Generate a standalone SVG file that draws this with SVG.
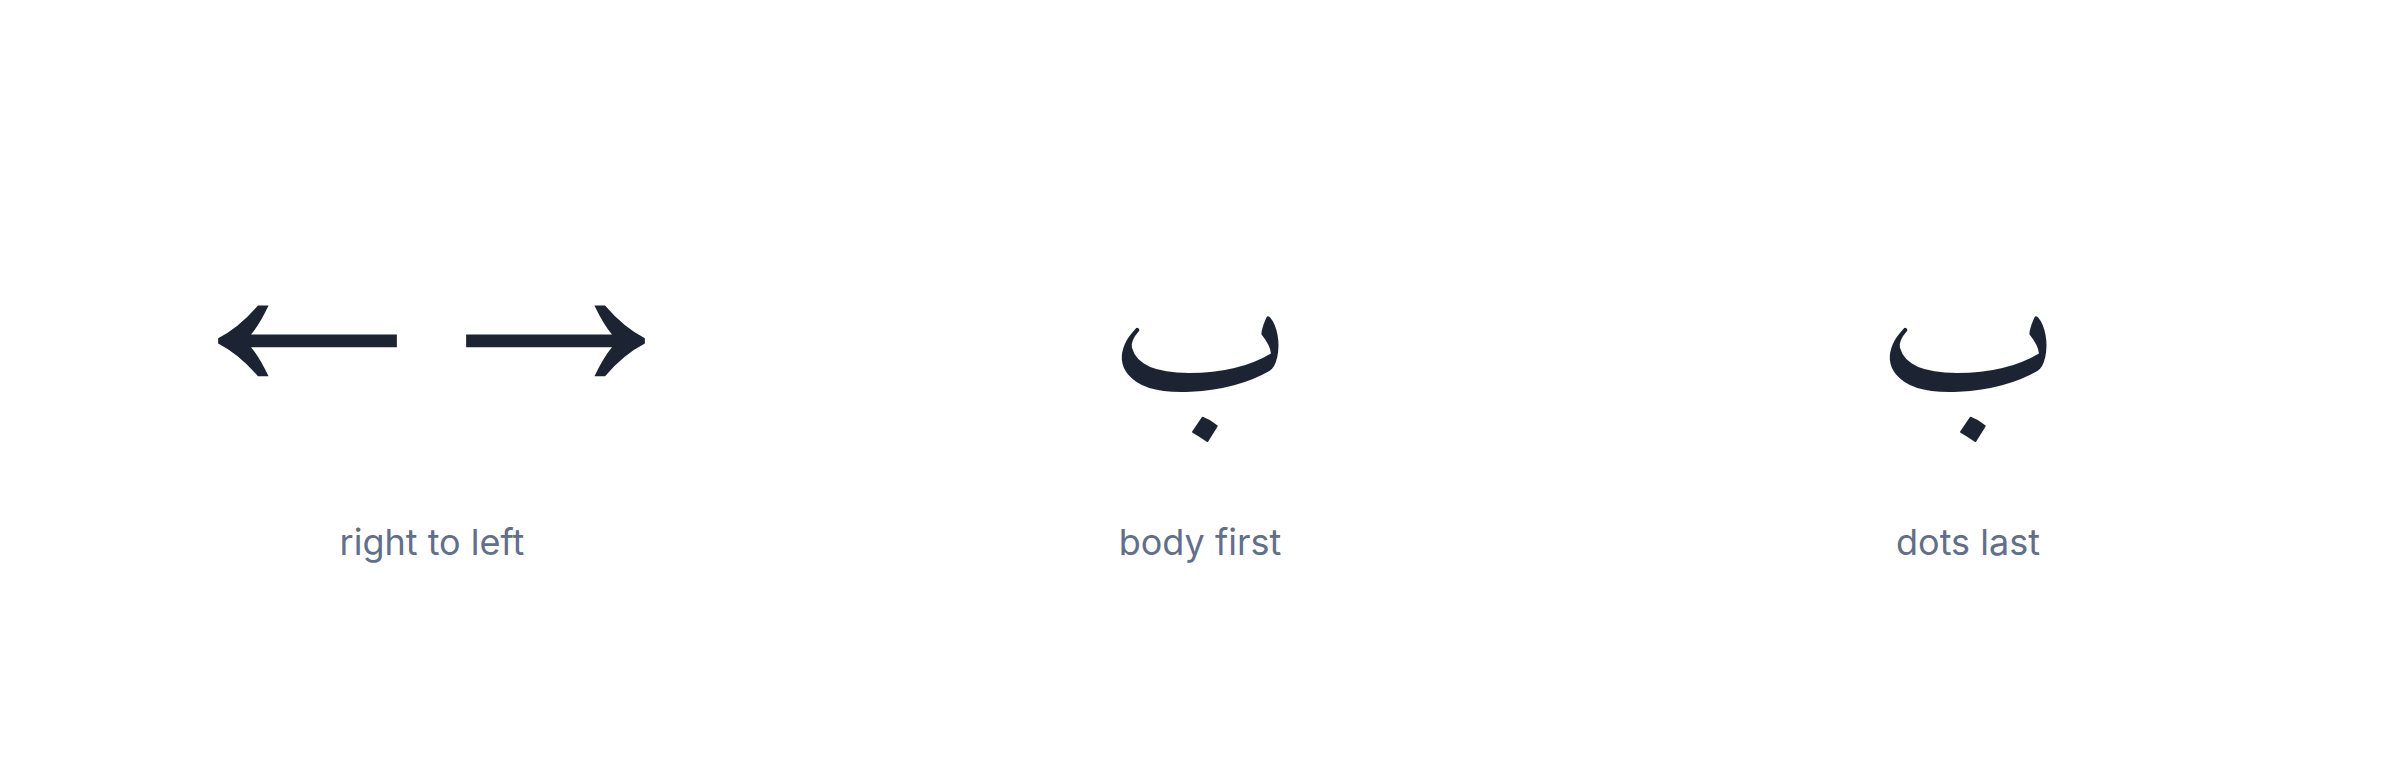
<svg xmlns="http://www.w3.org/2000/svg" width="2400" height="760" viewBox="0 0 2400 760">
<style>
.glyph{fill:#1c2333;font-family:"Liberation Serif","DejaVu Serif",serif;font-size:302px;text-anchor:middle;}
.ar{fill:#1c2333;font-family:Amiri,"Scheherazade New",Lateef,"Noto Naskh Arabic UI","Droid Arabic Naskh","Liberation Sans",sans-serif;font-size:196px;text-anchor:middle;}
.lbl{fill:#5f6f8c;font-family:Inter,"Noto Sans",sans-serif;font-size:36px;text-anchor:middle;}
</style>
<rect width="2400" height="760" fill="#ffffff"/>
<g id="direction">
<text class="glyph" y="391"><tspan x="307.5">←</tspan><tspan x="555.5">→</tspan></text>
<text class="lbl" x="432" y="555">right to left</text>
</g>
<g id="body-first">
<text class="ar" x="1200" y="390">ب</text>
<text class="lbl" x="1200" y="555">body first</text>
</g>
<g id="dots-last">
<text class="ar" x="1968" y="390">ب</text>
<text class="lbl" x="1968" y="555">dots last</text>
</g>
</svg>
